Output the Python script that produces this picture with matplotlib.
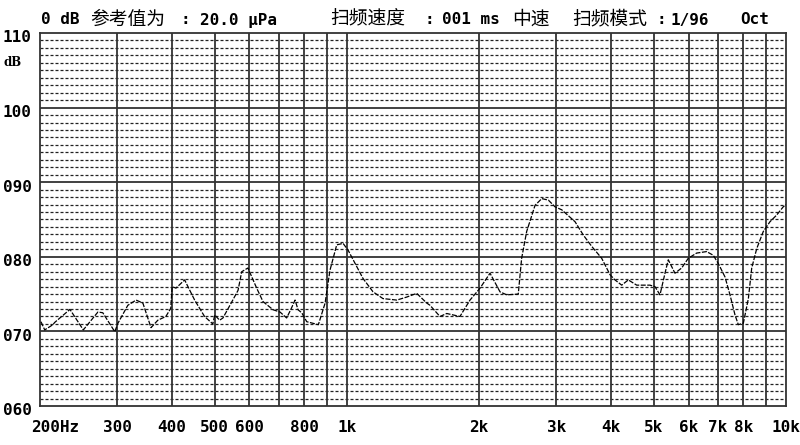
import matplotlib
matplotlib.use("Agg")
import matplotlib.pyplot as plt

# response curve (Hz, dB)
freq = [201, 205, 214, 216, 234, 251, 271, 278, 296, 301, 317, 331, 343, 358,
        371, 387, 397, 400, 408, 427, 450, 474, 495, 500, 513, 522, 545, 565,
        576, 595, 623, 644, 679, 704, 729, 746, 762, 774, 789, 810, 861, 892,
        915, 948, 980, 1006, 1088, 1147, 1208, 1299, 1368, 1442, 1520, 1546,
        1629, 1688, 1809, 1907, 2010, 2118, 2232, 2312, 2456, 2500, 2567, 2682,
        2778, 2876, 2978, 3085, 3308, 3456, 3610, 3804, 3974, 4079, 4225, 4374,
        4571, 4899, 5030, 5164, 5302, 5394, 5586, 5786, 5990, 6259, 6596, 6830,
        7012, 7262, 7455, 7654, 7788, 7996, 8209, 8355, 8577, 8878, 9194, 9523,
        9857, 10000]
level = [71.3, 70.2, 70.9, 71.2, 72.95, 70.2, 72.6, 72.5, 69.96, 71.1, 73.5,
         74.2, 73.8, 70.5, 71.5, 72.0, 73.1, 76.0, 75.8, 76.9, 74.2, 72.0,
         71.0, 72.2, 71.5, 71.8, 73.8, 75.5, 78.0, 78.5, 75.8, 74.0, 72.9, 72.6,
         71.8, 73.0, 74.2, 72.9, 72.5, 71.3, 70.9, 73.8, 78.2, 81.6, 81.8, 80.9,
         77.1, 75.3, 74.4, 74.2, 74.6, 75.1, 73.8, 73.5, 72.0, 72.4, 72.0, 74.2,
         75.8, 77.8, 75.3, 74.9, 75.0, 79.8, 83.4, 86.9, 87.8, 87.6, 86.7, 86.3,
         84.7, 82.9, 81.4, 79.8, 77.6, 76.9, 76.2, 76.9, 76.2, 76.2, 76.0, 74.9,
         77.8, 79.6, 77.8, 78.5, 79.8, 80.5, 80.7, 80.2, 79.1, 77.3, 74.9, 72.2,
         70.9, 71.1, 74.4, 78.5, 81.1, 83.4, 84.7, 85.6, 86.7, 87.0]

grid_freqs = [300, 400, 500, 600, 700, 800, 900, 1000, 2000, 3000, 4000,
              5000, 6000, 7000, 8000, 9000]
xtick_vals = [300, 400, 500, 600, 800, 1000, 2000, 3000, 4000, 5000, 6000,
              7000, 8000, 10000]
xtick_labels = ['300', '400', '500', '600', '800', '1k', '2k', '3k', '4k',
                '5k', '6k', '7k', '8k', '10k']
ytick_vals = [110, 100, 90, 80, 70, 60]
ytick_labels = ['110', '100', '090', '080', '070', '060']

MONO = 'DejaVu Sans Mono'
CJK = 'Noto Sans CJK SC'
W, H = 800, 445

fig = plt.figure(figsize=(8, 4.45), dpi=100)
ax = fig.add_axes([40 / W, 1 - 406 / H, 746 / W, 373 / H])
ax.set_xscale('log')
ax.set_xlim(200, 10000)
ax.set_ylim(60, 110)
ax.set_xticks([])
ax.set_yticks([])
ax.minorticks_off()
for s in ax.spines.values():
    s.set_color('#333333')
    s.set_linewidth(1.3)

# dashed 1 dB lines, solid 10 dB lines
for v in range(61, 110):
    if v % 10:
        ax.axhline(v, color='#222222', lw=0.9, linestyle=(0, (2.4, 1.6)), zorder=1)
for v in range(70, 110, 10):
    ax.axhline(v, color='#333333', lw=1.3, zorder=2)
for f in grid_freqs:
    ax.axvline(f, color='#333333', lw=1.3, zorder=2)

ax.plot(freq, level, color='black', lw=0.9, linestyle=(0, (4, 1.2)), zorder=3)

# y labels, sitting just below each line
for v, lbl in zip(ytick_vals, ytick_labels):
    ax.annotate(lbl, xy=(3 / W, v), xycoords=('figure fraction', 'data'),
                xytext=(0, -5), textcoords='offset pixels', ha='left', va='center',
                family=MONO, weight='bold', fontsize=11.5)
ax.annotate('dB', xy=(3 / W, 1 - 62 / H), xycoords='figure fraction',
            ha='left', va='center', family='DejaVu Serif', weight='bold', fontsize=8.5)

# x labels
for v, lbl in zip(xtick_vals, xtick_labels):
    ax.annotate(lbl, xy=(v, 1 - 428 / H), xycoords=('data', 'figure fraction'),
                ha='center', va='center', family=MONO, weight='bold', fontsize=11.5)
fig.text(31 / W, 1 - 428 / H, '200Hz', ha='left', va='center',
         family=MONO, weight='bold', fontsize=11.5)

# header line
header = [(41, '0 dB', MONO), (90, '参考值为', CJK), (181, ':', MONO),
          (200, '20.0 μPa', MONO), (330, '扫频速度', CJK), (425, ':', MONO),
          (442, '001 ms', MONO), (512, '中速', CJK), (572, '扫频模式', CJK),
          (657, ':', MONO), (671, '1/96', MONO), (740, 'Oct', MONO)]
for x, txt, fam in header:
    if fam == MONO:
        fig.text(x / W, 1 - 20 / H, txt, ha='left', va='center',
                 family=fam, weight='bold', fontsize=11.5)
    else:
        fig.text(x / W, 1 - 19 / H, txt, ha='left', va='center',
                 family=fam, fontsize=13.5)

fig.savefig('out.png', dpi=100)
